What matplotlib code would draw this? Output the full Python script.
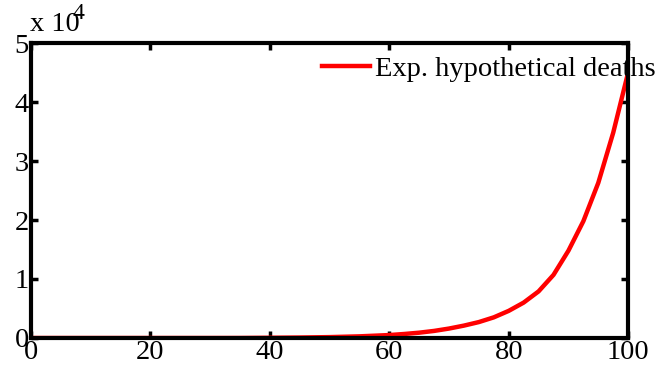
import matplotlib
matplotlib.use("Agg")
import matplotlib.pyplot as plt

# days and hypothetical deaths
days = [0, 5, 10, 15, 20, 25, 30, 35, 40, 45, 50, 55, 60, 62.5, 65, 67.5, 70,
        72.5, 75, 77.5, 80, 82.5, 85, 87.5, 90, 92.5, 95, 97.5, 100]
deaths = [0, 0, 0, 0, 0, 0, 0, 5, 40, 80, 150, 280, 500, 680, 900, 1200, 1600,
          2100, 2700, 3500, 4600, 6000, 7900, 10700, 14800, 19800, 26300, 34800, 45000]

x_ticks = [0, 20, 40, 60, 80, 100]
y_ticks = [0, 1, 2, 3, 4, 5]
scale = 1e4

plt.rcParams['font.family'] = ['Liberation Serif', 'DejaVu Serif']

fig = plt.figure(figsize=(6.61, 3.72), dpi=100)
ax = fig.add_axes([0.0469, 0.0914, 0.9034, 0.7930])

ax.plot(days, [d / scale for d in deaths], color='red', linewidth=3.2,
        label='Exp. hypothetical deaths')

ax.set_xlim(0, 100)
ax.set_ylim(0, 5)
ax.set_xticks(x_ticks)
ax.set_yticks(y_ticks)
ax.set_xticklabels([str(t) for t in x_ticks])
ax.set_yticklabels([str(t) for t in y_ticks])
ax.tick_params(direction='in', top=True, right=True, length=5, width=2.5,
               labelsize=20.5, pad=1.5)
for s in ax.spines.values():
    s.set_linewidth(3)

leg = ax.legend(loc='upper left', bbox_to_anchor=(0.487, 0.955), frameon=False,
                fontsize=20.5, handlelength=1.7, handletextpad=0.18,
                borderaxespad=0, borderpad=0)

fig.text(0.045, 0.9, 'x 10', fontsize=20.5, ha='left', va='bottom')
fig.text(0.11, 0.935, '4', fontsize=17, ha='left', va='bottom')

fig.savefig('out.png', dpi=100)
